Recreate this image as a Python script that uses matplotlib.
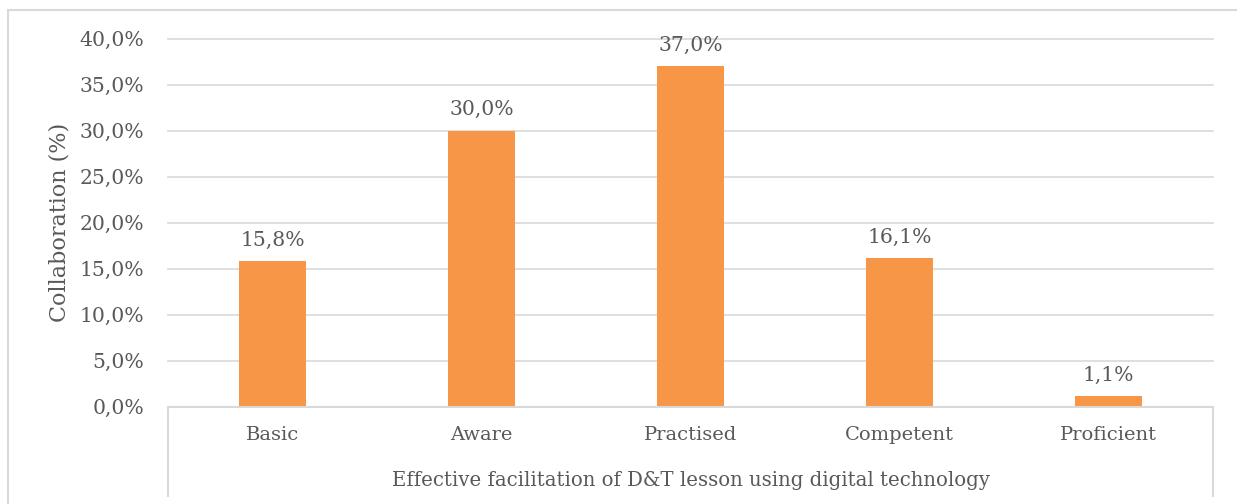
import numpy as np
import matplotlib.pyplot as plt
from matplotlib.patches import Rectangle
from matplotlib.ticker import FuncFormatter

# Datos del gráfico
niveles = ["Basic", "Aware", "Practised", "Competent", "Proficient"]
porcentajes = [15.8, 30.0, 37.0, 16.1, 1.1]
marcas_y = [0, 5, 10, 15, 20, 25, 30, 35, 40]

naranja = "#F79646"
gris_texto = "#595959"
gris_linea = "#D9D9D9"

plt.rcParams["font.family"] = ["DejaVu Serif"]

W, H = 1237, 504
fig = plt.figure(figsize=(W / 100, H / 100), dpi=100)

# borde del área del gráfico (sale por la derecha y abajo)
fig.patches.append(Rectangle((8 / W, -0.05), 1.1, 1 - 10 / H + 0.05,
                             transform=fig.transFigure, fill=False,
                             edgecolor=gris_linea, linewidth=1.5))

x0, x1, y0, y1 = 168, 1213, 406.5, 38.5
ax = fig.add_axes([x0 / W, 1 - y0 / H, (x1 - x0) / W, (y0 - y1) / H])

pos = np.arange(len(niveles))
ax.bar(pos, porcentajes, width=0.32, color=naranja, zorder=3)
ax.set_xlim(-0.5, len(niveles) - 0.5)
ax.set_ylim(0, 40)
ax.set_yticks(marcas_y)
ax.yaxis.set_major_formatter(FuncFormatter(lambda v, p: f"{v:.1f}%".replace(".", ",")))
ax.grid(axis="y", color=gris_linea, linewidth=1.2, zorder=0)
for g in ax.get_ygridlines():
    g.set_clip_on(False)

for s in ["top", "right", "left"]:
    ax.spines[s].set_visible(False)
ax.spines["bottom"].set_color(gris_linea)
ax.spines["bottom"].set_linewidth(1.5)
ax.spines["bottom"].set_zorder(4)

ax.set_xticks(pos)
ax.set_xticklabels(niveles)
ax.tick_params(axis="x", length=0, pad=14, labelsize=14, labelcolor=gris_texto)
ax.tick_params(axis="y", length=0, pad=17, labelsize=14.7, labelcolor=gris_texto)

# etiquetas de valores
for xi, v in zip(pos, porcentajes):
    ax.annotate(f"{v:.1f}%".replace(".", ","), (xi, v), xytext=(0, 8),
                textcoords="offset points", ha="center", va="bottom",
                fontsize=14.7, color=gris_texto)

# líneas verticales del bloque del eje X
abajo = -(496 - y0) / (y0 - y1)
for xa in [0, 1]:
    ax.plot([xa, xa], [0, abajo], transform=ax.transAxes, color=gris_linea,
            linewidth=1.5, clip_on=False)

ax.text(0.5, -(481 - y0) / (y0 - y1),
        "Effective facilitation of D&T lesson using digital technology",
        transform=ax.transAxes, ha="center", va="center", fontsize=14.2,
        color=gris_texto)

fig.text(60 / W, 1 - 222 / H, "Collaboration (%)", rotation=90,
         ha="center", va="center", fontsize=16, color=gris_texto)

fig.savefig("out.png", dpi=100)
